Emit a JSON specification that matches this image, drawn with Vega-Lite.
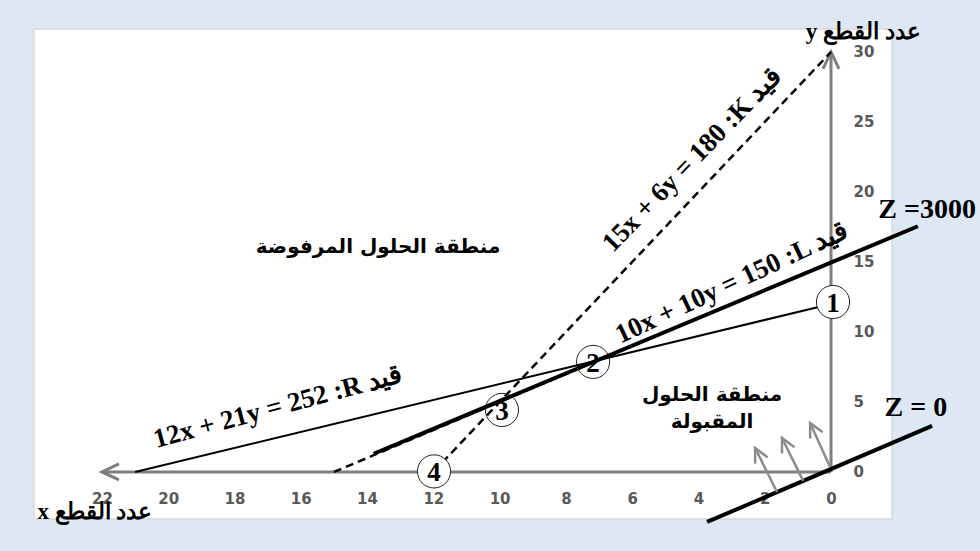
{
  "$schema": "https://vega.github.io/schema/vega-lite/v6.json",
  "width": 858,
  "height": 490,
  "autosize": {"type": "none"},
  "padding": {"left": 34, "top": 29, "right": 88, "bottom": 32},
  "background": "#dde8f4",
  "config": {
    "view": {"fill": "white", "stroke": "#d9d9d9", "strokeWidth": 1.5}
  },
  "datasets": {
    "axislines": [{"x": 0, "y": 0, "x2": 22, "y2": 0}, {"x": 0, "y": 0, "x2": 0, "y2": 30}],
    "xarrow": [{"x": 22, "y": 0}],
    "yarrow": [{"x": 0, "y": 30}],
    "circlesBack": [{"x": 7.18, "y": 7.86}, {"x": 9.93, "y": 4.43}],
    "circlesFront": [{"x": -0.06, "y": 12.14}, {"x": 11.98, "y": 0.04}],
    "numbers": [
      {"x": -0.06, "y": 12.14, "label": "1"},
      {"x": 7.18, "y": 7.86, "label": "2"},
      {"x": 9.93, "y": 4.43, "label": "3"},
      {"x": 11.98, "y": 0.04, "label": "4"}
    ],
    "dashed": [{"x": 12, "y": 0, "x2": 0, "y2": 30}, {"x": 15, "y": 0, "x2": 0, "y2": 15}],
    "rline": [{"x": 21, "y": 0, "x2": 0, "y2": 12}],
    "zlines": [{"x": 13.8, "y": 1.3, "x2": -2.62, "y2": 17.55}, {"x": 3.74, "y": -3.57, "x2": -3.05, "y2": 3.29}],
    "zarrows": [
      {"x": 1.63, "y": -1.43, "x2": 2.29, "y2": 1.71},
      {"x": 0.84, "y": -0.64, "x2": 1.48, "y2": 2.43},
      {"x": 0.03, "y": 0.36, "x2": 0.63, "y2": 3.5}
    ],
    "zheads": [{"x": 2.29, "y": 1.71}, {"x": 1.48, "y": 2.43}, {"x": 0.63, "y": 3.5}],
    "kLabel": [{"x": 4.19, "y": 22.29, "label": "15x + 6y = 180 :K قيد"}],
    "lLabel": [{"x": 2.99, "y": 13.5, "label": "10x + 10y = 150 :L قيد"}],
    "rLabel": [{"x": 16.69, "y": 4.64, "label": "12x + 21y = 252 :R قيد"}],
    "zLabels": [{"x": -2.9, "y": 18.71, "label": "Z =3000"}, {"x": -2.56, "y": 4.57, "label": "Z = 0"}],
    "regions": [
      {"x": 13.67, "y": 16.07, "label": "منطقة الحلول المرفوضة"},
      {"x": 3.59, "y": 5.5, "label": "منطقة الحلول"},
      {"x": 3.59, "y": 3.57, "label": "المقبولة"}
    ],
    "axisTitles": [{"x": -0.97, "y": 31.43, "label": "y عدد القطع"}, {"x": 22.21, "y": -2.86, "label": "x عدد القطع"}]
  },
  "encoding": {
    "x": {
      "field": "x", "type": "quantitative",
      "scale": {"domain": [-1.84, 24.05], "reverse": true, "nice": false, "zero": false},
      "axis": {
        "orient": "bottom", "values": [0, 2, 4, 6, 8, 10, 12, 14, 16, 18, 20, 22],
        "title": null, "offset": -21, "domain": false, "ticks": false, "grid": false,
        "labelPadding": 0, "labelBaseline": "middle", "labelFont": "DejaVu Sans", "labelFontWeight": "bold",
        "labelFontSize": 15, "labelColor": "#595959", "labelOverlap": false
      }
    },
    "y": {
      "field": "y", "type": "quantitative",
      "scale": {"domain": [-3.36, 31.64], "nice": false, "zero": false},
      "axis": {
        "orient": "right", "values": [0, 5, 10, 15, 20, 25, 30],
        "title": null, "offset": -39, "domain": false, "ticks": false, "grid": false,
        "labelPadding": 0, "labelAlign": "left", "labelBaseline": "middle", "labelFont": "DejaVu Sans",
        "labelFontWeight": "bold", "labelFontSize": 15, "labelColor": "#595959", "labelOverlap": false
      }
    }
  },
  "layer": [
    {
      "data": {"name": "axislines"},
      "mark": {"type": "rule", "color": "#7f7f7f", "strokeWidth": 3},
      "encoding": {"x2": {"field": "x2"}, "y2": {"field": "y2"}}
    },
    {
      "data": {"name": "xarrow"},
      "mark": {"type": "point", "shape": "M-0.47,1L0,0L0.47,1", "filled": false, "color": "#7f7f7f", "strokeWidth": 3, "size": 1156, "angle": -90, "opacity": 1}
    },
    {
      "data": {"name": "yarrow"},
      "mark": {"type": "point", "shape": "M-0.47,1L0,0L0.47,1", "filled": false, "color": "#7f7f7f", "strokeWidth": 3, "size": 1156, "angle": 0, "opacity": 1}
    },
    {
      "data": {"name": "circlesBack"},
      "mark": {"type": "point", "shape": "circle", "filled": true, "fill": "white", "stroke": "#222222", "strokeWidth": 1, "size": 1100, "opacity": 1, "fillOpacity": 1}
    },
    {
      "data": {"name": "dashed"},
      "mark": {"type": "rule", "color": "black", "strokeWidth": 2.5, "strokeDash": [8, 5]},
      "encoding": {"x2": {"field": "x2"}, "y2": {"field": "y2"}}
    },
    {
      "data": {"name": "rline"},
      "mark": {"type": "rule", "color": "black", "strokeWidth": 2},
      "encoding": {"x2": {"field": "x2"}, "y2": {"field": "y2"}}
    },
    {
      "data": {"name": "zlines"},
      "mark": {"type": "rule", "color": "black", "strokeWidth": 4},
      "encoding": {"x2": {"field": "x2"}, "y2": {"field": "y2"}}
    },
    {
      "data": {"name": "zarrows"},
      "mark": {"type": "rule", "color": "#8c8c8c", "strokeWidth": 2.5},
      "encoding": {"x2": {"field": "x2"}, "y2": {"field": "y2"}}
    },
    {
      "data": {"name": "zheads"},
      "mark": {"type": "point", "shape": "M-0.5,1L0,0L0.5,1", "filled": false, "color": "#8c8c8c", "strokeWidth": 2.5, "size": 784, "angle": -26.6, "opacity": 1}
    },
    {
      "data": {"name": "circlesFront"},
      "mark": {"type": "point", "shape": "circle", "filled": true, "fill": "white", "stroke": "#222222", "strokeWidth": 1, "size": 1100, "opacity": 1, "fillOpacity": 1}
    },
    {
      "data": {"name": "numbers"},
      "mark": {"type": "text", "font": "Liberation Serif", "fontWeight": "bold", "fontSize": 27, "color": "black", "align": "center", "baseline": "middle", "dy": 2},
      "encoding": {"text": {"field": "label", "type": "nominal"}}
    },
    {
      "data": {"name": "kLabel"},
      "mark": {"type": "text", "font": "Liberation Serif", "fontWeight": "bold", "fontSize": 27, "color": "black", "align": "center", "baseline": "middle", "angle": -46},
      "encoding": {"text": {"field": "label", "type": "nominal"}}
    },
    {
      "data": {"name": "lLabel"},
      "mark": {"type": "text", "font": "Liberation Serif", "fontWeight": "bold", "fontSize": 27, "color": "black", "align": "center", "baseline": "middle", "angle": -25},
      "encoding": {"text": {"field": "label", "type": "nominal"}}
    },
    {
      "data": {"name": "rLabel"},
      "mark": {"type": "text", "font": "Liberation Serif", "fontWeight": "bold", "fontSize": 27, "color": "black", "align": "center", "baseline": "middle", "angle": -15},
      "encoding": {"text": {"field": "label", "type": "nominal"}}
    },
    {
      "data": {"name": "zLabels"},
      "mark": {"type": "text", "font": "Liberation Serif", "fontWeight": "bold", "fontSize": 28, "color": "black", "align": "center", "baseline": "middle"},
      "encoding": {"text": {"field": "label", "type": "nominal"}}
    },
    {
      "data": {"name": "regions"},
      "mark": {"type": "text", "font": "DejaVu Sans", "fontWeight": "bold", "fontSize": 20, "color": "black", "align": "center", "baseline": "middle"},
      "encoding": {"text": {"field": "label", "type": "nominal"}}
    },
    {
      "data": {"name": "axisTitles"},
      "mark": {"type": "text", "font": "Liberation Serif", "fontWeight": "bold", "fontSize": 23, "color": "black", "align": "center", "baseline": "middle"},
      "encoding": {"text": {"field": "label", "type": "nominal"}}
    }
  ]
}
